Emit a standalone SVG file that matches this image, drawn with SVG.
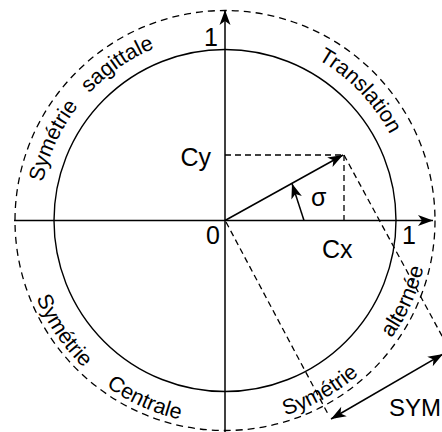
<svg xmlns="http://www.w3.org/2000/svg" xmlns:xlink="http://www.w3.org/1999/xlink" width="442" height="432" viewBox="0 0 442 432">
<style>
.lab{font-family:"Liberation Sans",Arial,Helvetica,sans-serif;font-size:25px;fill:#000}
.arc{font-family:"Liberation Sans",Arial,Helvetica,sans-serif;font-size:21.5px;fill:#000}
.solid{fill:none;stroke:#000;stroke-width:1.4}
.axis{fill:none;stroke:#000;stroke-width:1.5}
.dash{fill:none;stroke:#000;stroke-width:1.3;stroke-dasharray:6 4}
.dashc{fill:none;stroke:#000;stroke-width:1.3;stroke-dasharray:7 5}
</style>
<defs>
<marker id="arr" viewBox="-16 -6 17 12" markerWidth="17" markerHeight="12" refX="0" refY="0" orient="auto-start-reverse" markerUnits="userSpaceOnUse">
<path d="M0,0 L-15,-5.5 L-11,0 L-15,5.5 Z" fill="#000"/>
</marker>
<path id="topPath" d="M39,220.5 A186,186 0 0 1 411,220.5 A186,186 0 0 1 39,220.5"/>
<path id="botPath" d="M21,220.5 A204,204 0 0 0 429,220.5 A204,204 0 0 0 21,220.5"/>
</defs>
<g id="circles">
<circle id="unit-circle" cx="225" cy="220.5" r="171" class="solid"/>
<circle id="outer-circle" cx="225" cy="220.5" r="210" class="dashc"/>
</g>
<g id="connectors">
<line x1="14" y1="220.5" x2="433" y2="220.5" class="axis" marker-end="url(#arr)"/>
<line x1="225" y1="432" x2="225" y2="10" class="axis" marker-end="url(#arr)"/>
<line x1="225" y1="220.5" x2="343" y2="155" class="axis" marker-end="url(#arr)"/>
<line x1="304" y1="220.5" x2="292" y2="183.5" class="axis" marker-end="url(#arr)"/>
<line x1="225" y1="155" x2="344" y2="155" class="dash"/>
<line x1="344" y1="155" x2="344" y2="220.5" class="dash"/>
<line x1="344" y1="155" x2="448" y2="347" class="dash"/>
<line x1="226" y1="222" x2="328" y2="414" class="dash"/>
<line x1="331" y1="419" x2="443" y2="354" class="axis" marker-start="url(#arr)" marker-end="url(#arr)"/>
</g>
<g id="labels">
<text class="lab" x="211" y="166" text-anchor="end">Cy</text>
<text class="lab" x="322" y="258">Cx</text>
<text class="lab" x="220" y="244" text-anchor="end">0</text>
<text class="lab" x="204" y="46">1</text>
<text class="lab" x="402" y="244">1</text>
<text class="lab" x="311" y="206">σ</text>
<text class="lab" x="389" y="416" style="font-size:24px">SYM</text>
</g>
<g id="arc-labels">
<text class="arc"><textPath xlink:href="#topPath" href="#topPath" startOffset="81" text-anchor="middle">Symétrie</textPath></text>
<text class="arc"><textPath xlink:href="#topPath" href="#topPath" startOffset="180" text-anchor="middle">sagittale</textPath></text>
<text class="arc"><textPath xlink:href="#topPath" href="#topPath" startOffset="442" text-anchor="middle">Translation</textPath></text>
<text class="arc"><textPath xlink:href="#botPath" href="#botPath" startOffset="122" text-anchor="middle">Symétrie</textPath></text>
<text class="arc"><textPath xlink:href="#botPath" href="#botPath" startOffset="234" text-anchor="middle">Centrale</textPath></text>
<text class="arc"><textPath xlink:href="#botPath" href="#botPath" startOffset="424" text-anchor="middle">Symétrie</textPath></text>
<text class="arc"><textPath xlink:href="#botPath" href="#botPath" startOffset="554" text-anchor="middle">alternée</textPath></text>
</g>
</svg>
